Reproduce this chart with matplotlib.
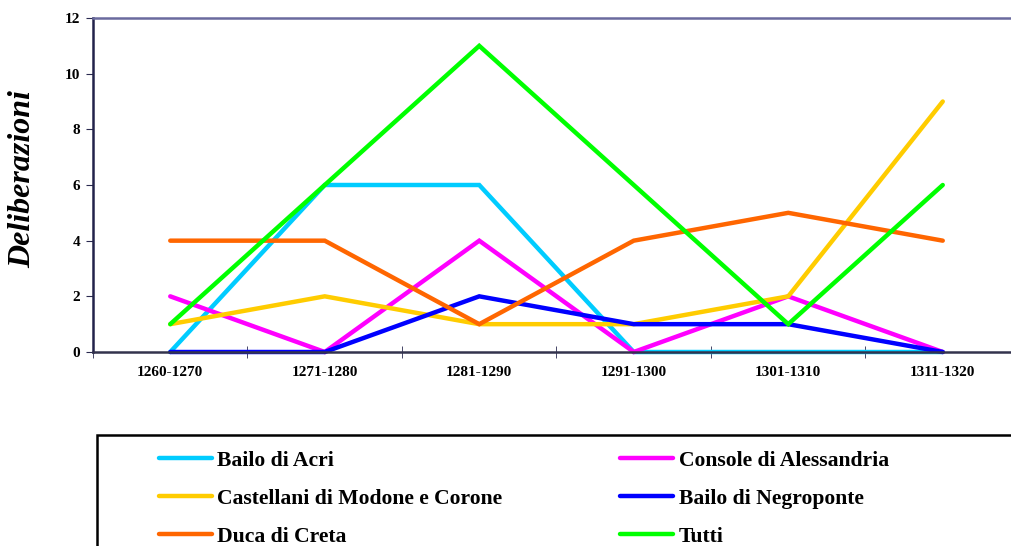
import numpy as np
import matplotlib.pyplot as plt
from matplotlib.patches import Rectangle

periodi = ["1260-1270", "1271-1280", "1281-1290", "1291-1300", "1301-1310", "1311-1320"]

bailo_acri = [0, 6, 6, 0, 0, 0]
castellani = [1, 2, 1, 1, 2, 9]
duca_creta = [4, 4, 1, 4, 5, 4]
console_aless = [2, 0, 4, 0, 2, 0]
bailo_negro = [0, 0, 2, 1, 1, 0]
tutti = [1, 6, 11, 6, 1, 6]

nomi = ["Bailo di Acri", "Castellani di Modone e Corone", "Duca di Creta",
        "Console di Alessandria", "Bailo di Negroponte", "Tutti"]
serie = [bailo_acri, castellani, duca_creta, console_aless, bailo_negro, tutti]
colori = ["#00ccff", "#ffcc00", "#ff6600", "#ff00ff", "#0000ff", "#00ff00"]
# drawing order (Tutti on top, as in the original)
ordine = [0, 3, 1, 4, 2, 5]

plt.rcParams['font.family'] = ['Liberation Serif', 'DejaVu Serif']
plt.rcParams['font.weight'] = 'bold'

W, H = 1012, 546
fig = plt.figure(figsize=(W / 100, H / 100), dpi=100)
ax = fig.add_axes([93 / W, 1 - 352 / H, (1020 - 93) / W, (352 - 18) / H])

x = np.arange(len(periodi))
linee = {}
for i in ordine:
    l, = ax.plot(x, serie[i], color=colori[i], lw=3.2, solid_capstyle='round',
                 solid_joinstyle='miter', label=nomi[i], clip_on=False)
    linee[i] = l

ax.set_xlim(-0.5, len(periodi) - 0.5)
ax.set_ylim(0, 12)
ax.set_yticks(range(0, 13, 2))
ax.set_xticks(x)
ax.set_xticklabels(periodi, fontsize=11, fontweight='bold')
ax.set_xticks(np.arange(-0.5, len(periodi)), minor=True)
ax.tick_params(axis='x', which='major', length=0, pad=10)
ax.tick_params(axis='x', which='minor', length=8, direction='inout', color='#2a2a50')
ax.tick_params(axis='y', length=5, direction='out', color='#2a2a50', labelsize=11, pad=4)
for t in ax.get_yticklabels():
    t.set_fontweight('bold')

ax.spines['left'].set_color('#22224a')
ax.spines['bottom'].set_color('#33334d')
ax.spines['top'].set_color('#6a6a9e')
ax.spines['right'].set_visible(False)
for s in ['left', 'bottom', 'top']:
    ax.spines[s].set_linewidth(1.8)

fig.text(23 / W, 1 - 179 / H, "Deliberazioni", rotation=90, fontsize=23,
         fontweight='bold', fontstyle='italic', ha='center', va='center')

# legend box (runs off the right and bottom edges)
fig.patches.append(Rectangle((97 / W, -0.1), 1.0, (546 - 435) / H + 0.1,
                             transform=fig.transFigure, fill=False,
                             edgecolor='black', lw=1.8))
handles = [linee[i] for i in range(len(nomi))]
leg = fig.legend(handles, nomi, loc='upper left', bbox_to_anchor=(139 / W, 1 - 431 / H),
                 ncol=2, frameon=False, handlelength=2.45,
                 handletextpad=0.25, columnspacing=5.45, labelspacing=0.82,
                 prop={'family': 'Liberation Serif', 'weight': 'bold', 'size': 15.6})

fig.savefig("out.png", dpi=100)
